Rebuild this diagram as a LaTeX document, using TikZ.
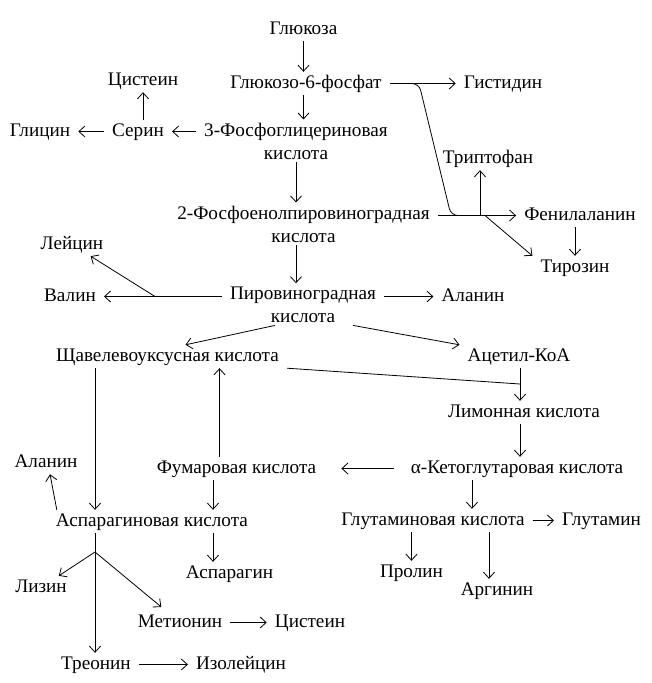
\documentclass[tikz,border=0pt]{standalone}
\usepackage{fontspec}
\setmainfont{Liberation Serif}
\usetikzlibrary{arrows.meta}
\tikzset{chem/.style={anchor=base,inner xsep=8pt,inner ysep=3pt,text height=13pt,text depth=4pt,
    font=\fontsize{19.2}{23}\selectfont},
  chemtwo/.style={anchor=base,inner xsep=8pt,inner ysep=3pt,align=center,font=\fontsize{19.2}{23}\selectfont},
  pathway/.style={-{Straight Barb[length=6pt,width=11pt]},line width=0.8pt},
  branch/.style={line width=0.8pt}}

\begin{document}
\begin{tikzpicture}[x=1pt,y=-1pt]
        \useasboundingbox (0,0) rectangle (651,683);
        \node[chem] (glc) at (303.5,34) {Глюкоза};
        \node[chem] (g6p) at (306,88) {Глюкозо-6-фосфат};
        \node[chem] (his) at (503,88) {Гистидин};
        \node[chem] (cys1) at (143,85) {Цистеин};
        \node[chem] (gly) at (40,136) {Глицин};
        \node[chem] (ser) at (138,136) {Серин};
        \node[chemtwo] (pga) at (296,159) {3-Фосфоглицериновая\\кислота};
        \node[chem] (trp) at (488,163) {Триптофан};
        \node[chemtwo] (pep) at (303.5,242) {2-Фосфоенолпировиноградная\\кислота};
        \node[chem] (phe) at (580,220) {Фенилаланин};
        \node[chem] (tyr) at (575,272) {Тирозин};
        \node[chem] (leu) at (72,249) {Лейцин};
        \node[chem] (val) at (70,301) {Валин};
        \node[chemtwo] (pyr) at (303,322) {Пировиноградная\\кислота};
        \node[chem] (ala1) at (473,301) {Аланин};
        \node[chem] (oaa) at (167.5,361) {Щавелевоуксусная кислота};
        \node[chem] (acoa) at (519,361) {Ацетил-КоА};
        \node[chem] (cit) at (524,417) {Лимонная кислота};
        \node[chem] (akg) at (517,473) {α-Кетоглутаровая кислота};
        \node[chem] (fum) at (236.5,473) {Фумаровая кислота};
        \node[chem] (ala2) at (46,467) {Аланин};
        \node[chem] (asp) at (152,526) {Аспарагиновая кислота};
        \node[chem] (glu) at (433,525) {Глутаминовая кислота};
        \node[chem] (gln) at (601.5,525) {Глутамин};
        \node[chem] (asn) at (229.5,578) {Аспарагин};
        \node[chem] (pro) at (411.5,577) {Пролин};
        \node[chem] (arg) at (497,595) {Аргинин};
        \node[chem] (lys) at (41,592) {Лизин};
        \node[chem] (met) at (180,627) {Метионин};
        \node[chem] (cys2) at (310,627) {Цистеин};
        \node[chem] (thr) at (96,669) {Треонин};
        \node[chem] (ile) at (241,669) {Изолейцин};
        \coordinate (hsplit) at (405,83.5);
        \coordinate (pmerge) at (470,215.5);
        \coordinate (trpsplit) at (480,215.5);
        \coordinate (tyrsplit) at (485,215.5);
        \coordinate (vsplit) at (155,296.5);
        \coordinate (merge) at (520,384);
        \coordinate (fork) at (95,552);
        \draw[pathway] (glc) -- (glc |- g6p.north);
        \draw[pathway] (g6p) -- (his);
        \draw[pathway] (g6p.south -| glc) -- (pga.north -| glc);
        \draw[pathway] (pga.west |- ser) -- (ser);
        \draw[pathway] (ser) -- (gly);
        \draw[pathway] (cys1 |- ser.north) -- (cys1);
        \draw[pathway] (pga.south) -- (pga.south |- pep.north);
        \draw[pathway] (pep.south -| pga) -- (pyr.north -| pga);
        \draw[branch,rounded corners=7pt] (hsplit) -- (419,83.5) -- (451,215.5) -- (pmerge);
        \draw[pathway] (pep.east |- phe) -- (phe);
        \draw[pathway] (trpsplit) -- (trpsplit |- trp.south);
        \draw[pathway] (tyrsplit) -- (tyr.north west);
        \draw[pathway] (tyr.north |- phe.south) -- (tyr.north);
        \draw[pathway] (pyr.west |- val) -- (val);
        \draw[pathway] (vsplit) -- (leu);
        \draw[pathway] (pyr.east |- ala1) -- (ala1);
        \draw[pathway] ([xshift=-28pt]pyr.south) -- ([xshift=18pt]oaa.north);
        \draw[pathway] ([xshift=50pt]pyr.south) -- (acoa.north west);
        \draw[branch] (oaa.south east) -- (merge);
        \draw[pathway] (acoa.south -| merge) -- (cit.north -| merge);
        \draw[pathway] (cit.south -| merge) -- (akg.north -| merge);
        \draw[pathway,shorten <=9pt,shorten >=17pt] (akg) -- (fum);
        \draw[pathway] ([xshift=-17pt]fum.north) -- ([xshift=-17pt]fum.north |- oaa.south);
        \draw[pathway] (oaa.south -| fork) -- (asp.north -| fork);
        \draw[pathway] ([xshift=9pt]asp.north west) -- ([xshift=4pt]ala2.south);
        \draw[pathway] ([xshift=-23.5pt]fum.south) -- ([xshift=-23.5pt]fum.south |- asp.north);
        \draw[pathway] ([xshift=-16.5pt]asn.north |- asp.south) -- ([xshift=-16.5pt]asn.north);
        \draw[pathway] ([xshift=-45pt]akg.south) -- ([xshift=-45pt]akg.south |- glu.north);
        \draw[pathway] (glu) -- (gln);
        \draw[pathway] (pro |- glu.south) -- (pro);
        \draw[pathway] ([xshift=-8pt]arg.north |- glu.south) -- ([xshift=-8pt]arg.north);
        \draw[pathway] (asp.south -| fork) -- (thr.north -| fork);
        \draw[pathway] (fork) -- (lys);
        \draw[pathway,shorten >=6pt] (fork) -- (met);
        \draw[pathway] (met) -- (cys2);
        \draw[pathway] (thr) -- (ile);
\end{tikzpicture}
\end{document}
